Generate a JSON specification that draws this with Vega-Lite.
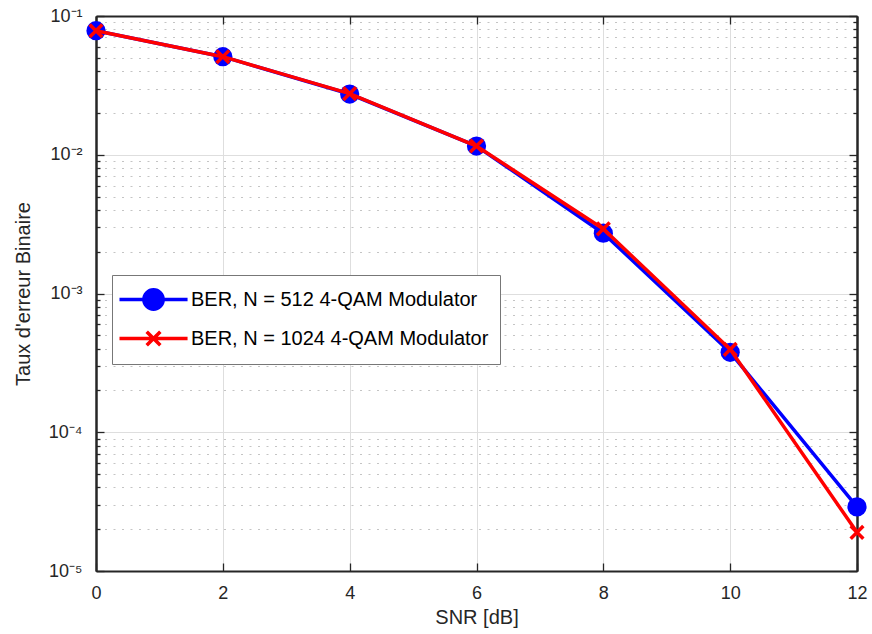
{
  "$schema": "https://vega.github.io/schema/vega-lite/v6.json",
  "width": 761,
  "height": 555,
  "autosize": {"type": "none"},
  "padding": {"left": 96, "top": 16, "right": 15, "bottom": 63},
  "background": "white",
  "config": {
    "view": {"stroke": null},
    "font": "Liberation Sans",
    "axis": {
      "labelFont": "Liberation Sans",
      "titleFont": "Liberation Sans",
      "labelFontSize": 18,
      "titleFontSize": 20,
      "titleFontWeight": "normal",
      "labelColor": "#262626",
      "titleColor": "#262626",
      "domainColor": "#262626",
      "domainWidth": 2,
      "tickColor": "#262626",
      "tickWidth": 1.3,
      "gridColor": "#dedede",
      "gridWidth": 1
    }
  },
  "data": {
    "values": [
      {"snr": 0, "ber": 0.0783, "series": "BER, N = 512 4-QAM Modulator"},
      {"snr": 2, "ber": 0.0509, "series": "BER, N = 512 4-QAM Modulator"},
      {"snr": 4, "ber": 0.0274, "series": "BER, N = 512 4-QAM Modulator"},
      {"snr": 6, "ber": 0.01156, "series": "BER, N = 512 4-QAM Modulator"},
      {"snr": 8, "ber": 0.00272, "series": "BER, N = 512 4-QAM Modulator"},
      {"snr": 10, "ber": 0.000377, "series": "BER, N = 512 4-QAM Modulator"},
      {"snr": 12, "ber": 0.000029, "series": "BER, N = 512 4-QAM Modulator"},
      {"snr": 0, "ber": 0.0783, "series": "BER, N = 1024 4-QAM Modulator"},
      {"snr": 2, "ber": 0.0509, "series": "BER, N = 1024 4-QAM Modulator"},
      {"snr": 4, "ber": 0.0276, "series": "BER, N = 1024 4-QAM Modulator"},
      {"snr": 6, "ber": 0.01156, "series": "BER, N = 1024 4-QAM Modulator"},
      {"snr": 8, "ber": 0.00292, "series": "BER, N = 1024 4-QAM Modulator"},
      {"snr": 10, "ber": 0.000396, "series": "BER, N = 1024 4-QAM Modulator"},
      {"snr": 12, "ber": 0.000019, "series": "BER, N = 1024 4-QAM Modulator"}
    ]
  },
  "layer": [
    {
      "transform": [{"filter": "datum.series == 'BER, N = 512 4-QAM Modulator'"}],
      "mark": {"type": "line", "color": "#0000ff", "strokeWidth": 3.5},
      "encoding": {
        "x": {"field": "snr", "type": "quantitative", "scale": {"domain": [0, 12], "nice": false},
          "axis": {"orient": "bottom", "values": [0, 2, 4, 6, 8, 10, 12], "grid": true, "tickSize": -8, "labelPadding": 21, "title": "SNR [dB]", "titlePadding": 5, "labelFlush": false}},
        "y": {"field": "ber", "type": "quantitative", "scale": {"type": "log", "domain": [0.00001, 0.1], "nice": false},
          "axis": {"orient": "left", "values": [0.00001, 0.0001, 0.001, 0.01, 0.1], "grid": true, "tickSize": -8, "labelPadding": 22, "title": "Taux d'erreur Binaire", "titlePadding": 15,
            "labelExpr": "datum.value >= 0.09 ? '10⁻¹' : datum.value >= 0.009 ? '10⁻²' : datum.value >= 0.0009 ? '10⁻³' : datum.value >= 0.00009 ? '10⁻⁴' : '10⁻⁵'"}}
      }
    },
    {
      "transform": [{"filter": "datum.series == 'BER, N = 512 4-QAM Modulator'"}],
      "mark": {"type": "point", "shape": "circle", "filled": true, "color": "#0000ff", "size": 370, "opacity": 1},
      "encoding": {
        "x": {"field": "snr", "type": "quantitative",
          "axis": {"orient": "top", "values": [0, 2, 4, 6, 8, 10, 12], "grid": false, "tickSize": -8, "labels": false, "title": null}},
        "y": {"field": "ber", "type": "quantitative",
          "axis": {"orient": "left", "values": [0.00002, 0.00003, 0.00004, 0.00005, 0.00006, 0.00007, 0.00008, 0.00009, 0.0002, 0.0003, 0.0004, 0.0005, 0.0006, 0.0007, 0.0008, 0.0009, 0.002, 0.003, 0.004, 0.005, 0.006, 0.007, 0.008, 0.009, 0.02, 0.03, 0.04, 0.05, 0.06, 0.07, 0.08, 0.09],
            "grid": true, "gridDash": [2, 6.5], "gridColor": "#c4c4c4", "tickSize": -4, "labels": false, "title": null}}
      }
    },
    {
      "transform": [{"filter": "datum.series == 'BER, N = 1024 4-QAM Modulator'"}],
      "mark": {"type": "line", "color": "#ff0000", "strokeWidth": 3.5},
      "encoding": {
        "x": {"field": "snr", "type": "quantitative", "axis": null},
        "y": {"field": "ber", "type": "quantitative",
          "axis": {"orient": "right", "values": [0.00001, 0.0001, 0.001, 0.01, 0.1], "grid": false, "tickSize": -8, "labels": false, "title": null}}
      }
    },
    {
      "transform": [{"filter": "datum.series == 'BER, N = 1024 4-QAM Modulator'"}],
      "mark": {"type": "point", "shape": "M-1,-1L1,1M-1,1L1,-1", "filled": false, "stroke": "#ff0000", "strokeWidth": 3.5, "size": 160, "opacity": 1},
      "encoding": {
        "x": {"field": "snr", "type": "quantitative", "axis": null},
        "y": {"field": "ber", "type": "quantitative",
          "axis": {"orient": "right", "values": [0.00002, 0.00003, 0.00004, 0.00005, 0.00006, 0.00007, 0.00008, 0.00009, 0.0002, 0.0003, 0.0004, 0.0005, 0.0006, 0.0007, 0.0008, 0.0009, 0.002, 0.003, 0.004, 0.005, 0.006, 0.007, 0.008, 0.009, 0.02, 0.03, 0.04, 0.05, 0.06, 0.07, 0.08, 0.09],
            "grid": false, "tickSize": -4, "labels": false, "title": null}}
      }
    },
    {
      "transform": [{"filter": "datum.snr < 0"}],
      "mark": {"type": "point", "filled": false, "opacity": 1},
      "encoding": {
        "x": {"field": "snr", "type": "quantitative", "axis": null},
        "y": {"field": "ber", "type": "quantitative", "axis": null},
        "color": {"field": "series", "type": "nominal",
          "scale": {"domain": ["BER, N = 512 4-QAM Modulator", "BER, N = 1024 4-QAM Modulator"], "range": ["#0000ff", "#ff0000"]},
          "legend": {"orient": "none", "legendX": 16, "legendY": 259, "title": null, "symbolSize": 515, "symbolStrokeWidth": 3.5, "symbolOpacity": 1,
            "labelFontSize": 20, "labelFont": "Liberation Sans", "labelColor": "#000000", "labelOffset": 41, "rowPadding": 7, "padding": 11,
            "strokeColor": "#777777", "fillColor": "#ffffff", "cornerRadius": 0, "labelLimit": 500}},
        "shape": {"field": "series", "type": "nominal",
          "scale": {"domain": ["BER, N = 512 4-QAM Modulator", "BER, N = 1024 4-QAM Modulator"],
            "range": ["M-1.5,0L4.5,0M2.35,0A0.85,0.85,0,1,1,0.65,0A0.85,0.85,0,1,1,2.35,0Z", "M-1.5,0L4.5,0M0.9,-0.6L2.1,0.6M0.9,0.6L2.1,-0.6"]}},
        "fill": {"field": "series", "type": "nominal",
          "scale": {"domain": ["BER, N = 512 4-QAM Modulator", "BER, N = 1024 4-QAM Modulator"], "range": ["#0000ff", "transparent"]}}
      }
    }
  ],
  "resolve": {"axis": {"x": "independent", "y": "independent"}}
}
